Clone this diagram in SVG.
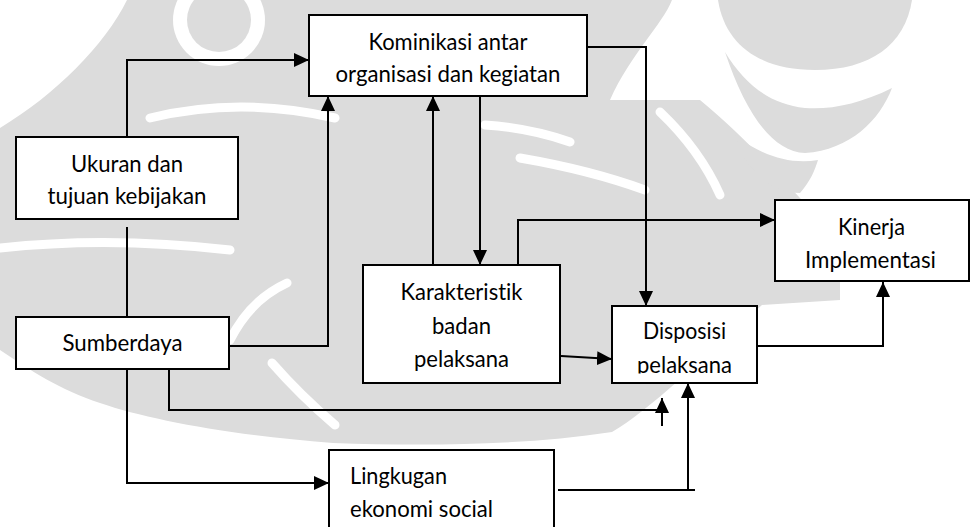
<svg xmlns="http://www.w3.org/2000/svg" width="970" height="527" viewBox="0 0 970 527">
  <style>
    .box { fill: #fff; stroke: #000; stroke-width: 2; }
    .lbl { font-family: Lato, "Open Sans", "Liberation Sans", sans-serif; font-size: 22.5px; fill: #000; font-variant-ligatures: none; font-feature-settings: "liga" 0; }
    .mid { text-anchor: middle; }
    .wire { fill: none; stroke: #000; stroke-width: 2; }
    .arr { marker-end: url(#head); }
    .wm { fill: #dcdcdc; }
    .wm-gap { fill: none; stroke: #fff; stroke-width: 9; stroke-linecap: round; }
  </style>
  <defs>
    <marker id="head" markerUnits="userSpaceOnUse" markerWidth="16" markerHeight="14" refX="15" refY="7" orient="auto">
      <path d="M0,0 L15,7 L0,14 Z" fill="#000"/>
    </marker>
    <clipPath id="clip-disposisi">
      <rect x="612" y="306" width="145" height="67.5"/>
    </clipPath>
  </defs>
  <rect width="970" height="527" fill="#fff"/>

  <!-- faint emblem in the background -->
  <g id="emblem">
    <path class="wm" d="M0,128 C55,95 105,45 127,0 L672,0 C662,25 630,55 610,100 L700,100 C760,150 800,200 840,240 L840,300 L762,305 C700,360 650,410 612,432 C520,446 420,446 333,443 C230,435 150,420 100,403 C60,390 30,370 0,350 Z"/>
    <circle cx="219" cy="20" r="46" fill="#fff"/>
    <circle class="wm" cx="219" cy="20" r="32"/>
    <path class="wm" d="M718,0 L912,0 C905,45 870,70 815,70 C760,70 725,45 718,0 Z"/>
    <path class="wm" d="M725,52 C745,112 772,152 805,153 C850,150 880,120 892,88 C860,104 830,110 805,108 C770,104 745,85 725,52 Z"/>
    <path class="wm" d="M735,135 C745,170 770,192 800,193 C810,182 815,170 818,160 C790,165 760,155 735,135 Z"/>
    <path class="wm-gap" d="M150,118 Q240,96 335,118"/>
    <path class="wm-gap" d="M0,248 Q110,236 230,250"/>
    <path class="wm-gap" d="M287,283 Q250,300 230,340"/>
    <path class="wm-gap" d="M272,363 Q300,395 335,425"/>
    <path class="wm-gap" d="M485,125 Q530,128 570,142"/>
    <path class="wm-gap" d="M520,158 Q590,170 645,190"/>
    <path class="wm-gap" d="M660,112 Q700,150 720,195"/>
  </g>

  <!-- connectors -->
  <g id="connectors">
    <path class="wire arr" d="M127,137 V60 H309"/>
    <path class="wire" d="M127,227 V317"/>
    <path class="wire arr" d="M228,346 H328 V96"/>
    <path class="wire arr" d="M433,265 V96"/>
    <path class="wire arr" d="M480,96 V265"/>
    <path class="wire arr" d="M518,265 V220 H775"/>
    <path class="wire arr" d="M587,47 H646 V306"/>
    <path class="wire arr" d="M561,356 L612,359"/>
    <path class="wire arr" d="M757,346 H883 V282"/>
    <path class="wire" d="M169,369 V410 H659"/>
    <path class="wire arr" d="M662,426 V398"/>
    <path class="wire arr" d="M127,369 V483 H329"/>
    <path class="wire" d="M558,490 H695"/>
    <path class="wire arr" d="M688,490 V383"/>
  </g>

  <!-- nodes -->
  <g id="komunikasi">
    <rect class="box" x="309" y="15" width="278" height="81"/>
    <text class="lbl mid" x="448" y="50" textLength="159" lengthAdjust="spacingAndGlyphs">Kominikasi antar</text>
    <text class="lbl mid" x="448" y="82" textLength="225" lengthAdjust="spacingAndGlyphs">organisasi dan kegiatan</text>
  </g>
  <g id="ukuran">
    <rect class="box" x="16" y="137" width="222" height="82"/>
    <text class="lbl mid" x="127" y="172" textLength="112" lengthAdjust="spacingAndGlyphs">Ukuran dan</text>
    <text class="lbl mid" x="127" y="204" textLength="159" lengthAdjust="spacingAndGlyphs">tujuan kebijakan</text>
  </g>
  <g id="sumberdaya">
    <rect class="box" x="16" y="317" width="213" height="52"/>
    <text class="lbl mid" x="122.5" y="351" textLength="120" lengthAdjust="spacingAndGlyphs">Sumberdaya</text>
  </g>
  <g id="karakteristik">
    <rect class="box" x="363" y="265" width="197" height="118"/>
    <text class="lbl mid" x="461.5" y="300" textLength="122" lengthAdjust="spacingAndGlyphs">Karakteristik</text>
    <text class="lbl mid" x="461.5" y="334" textLength="59" lengthAdjust="spacingAndGlyphs">badan</text>
    <text class="lbl mid" x="461.5" y="367" textLength="95" lengthAdjust="spacingAndGlyphs">pelaksana</text>
  </g>
  <g id="disposisi">
    <rect class="box" x="612" y="306" width="145" height="77"/>
    <text class="lbl mid" x="684.5" y="339" textLength="83" lengthAdjust="spacingAndGlyphs">Disposisi</text>
    <text class="lbl mid" x="684.5" y="372.5" textLength="95" lengthAdjust="spacingAndGlyphs" clip-path="url(#clip-disposisi)">pelaksana</text>
  </g>
  <g id="kinerja">
    <rect class="box" x="775" y="200" width="194" height="81"/>
    <text class="lbl mid" x="871.5" y="235" textLength="67" lengthAdjust="spacingAndGlyphs">Kinerja</text>
    <text class="lbl mid" x="870.5" y="268" textLength="131" lengthAdjust="spacingAndGlyphs">Implementasi</text>
  </g>
  <g id="lingkungan">
    <rect class="box" x="329" y="450" width="225" height="90"/>
    <text class="lbl" x="350" y="484" textLength="97" lengthAdjust="spacingAndGlyphs">Lingkugan</text>
    <text class="lbl" x="350" y="517" textLength="143" lengthAdjust="spacingAndGlyphs">ekonomi social</text>
  </g>
</svg>
